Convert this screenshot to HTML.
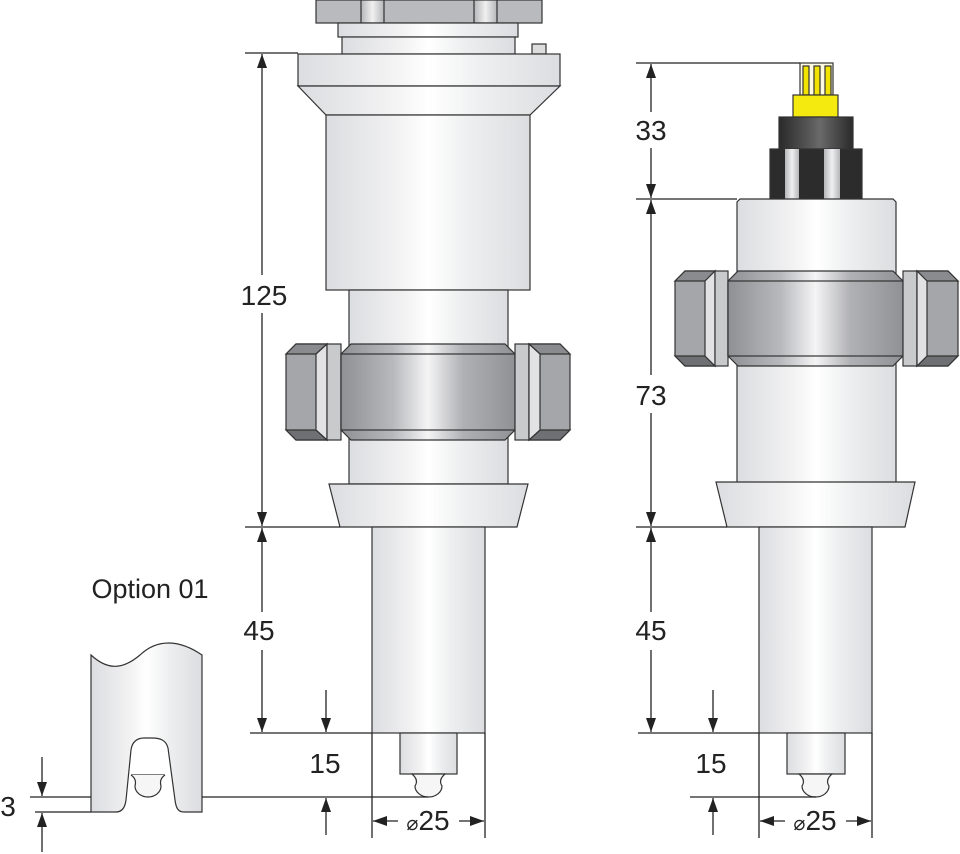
<!DOCTYPE html>
<html><head><meta charset="utf-8"><style>html,body{margin:0;padding:0;background:#fff}svg{display:block}</style></head>
<body>
<svg width="960" height="854" viewBox="0 0 960 854" xmlns="http://www.w3.org/2000/svg" font-family="Liberation Sans, Arial, sans-serif">
<defs>
<linearGradient id="w" x1="0" x2="1" y1="0" y2="0">
<stop offset="0" stop-color="#dcdde0"/><stop offset="0.35" stop-color="#f2f2f3"/><stop offset="0.5" stop-color="#ffffff"/><stop offset="0.7" stop-color="#eeeff0"/><stop offset="1" stop-color="#dcdde0"/></linearGradient>
<linearGradient id="n" x1="0" x2="1" y1="0" y2="0">
<stop offset="0" stop-color="#8f9094"/><stop offset="0.3" stop-color="#b8b9bc"/><stop offset="0.5" stop-color="#f4f4f5"/><stop offset="0.7" stop-color="#b0b1b4"/><stop offset="1" stop-color="#909195"/></linearGradient>
<linearGradient id="nl" x1="0" x2="1" y1="0" y2="0">
<stop offset="0" stop-color="#b5b6b9"/><stop offset="0.5" stop-color="#f0f0f1"/><stop offset="1" stop-color="#b5b6b9"/></linearGradient>
<linearGradient id="k" x1="0" x2="1" y1="0" y2="0">
<stop offset="0" stop-color="#2a2a2a"/><stop offset="0.45" stop-color="#5c5c5c"/><stop offset="0.55" stop-color="#6a6a6a"/><stop offset="1" stop-color="#2a2a2a"/></linearGradient>
<marker id="a" markerWidth="16" markerHeight="12" refX="14" refY="6" orient="auto" markerUnits="userSpaceOnUse"><path d="M0,1 L14,6 L0,11 z" fill="#222"/></marker>
</defs>
<g stroke="#333" stroke-width="1.2">
<!-- LEFT DEVICE -->
<rect x="316" y="0" width="226" height="23" fill="#b9babd"/>
<rect x="361" y="0" width="23" height="23" fill="url(#nl)"/>
<rect x="474" y="0" width="23" height="23" fill="url(#nl)"/>
<rect x="338" y="23" width="180" height="14" fill="url(#w)"/>
<rect x="342" y="37" width="173" height="17" fill="url(#w)"/>
<rect x="532" y="44" width="14" height="10" fill="#ddd"/>
<rect x="298" y="54" width="262" height="32" fill="url(#w)"/>
<polygon points="298,86 560,86 530,115 326,115" fill="url(#w)"/>
<rect x="326" y="115" width="204" height="175" fill="url(#w)"/>
<rect x="349" y="290" width="159" height="194" fill="url(#w)"/>
<polygon points="286,354 296,344 327,344 327,440 296,440 286,430" fill="#a5a6a9"/>
<polygon points="286,354 296,344 327,344 316,354" fill="#8a8b8e"/>
<polygon points="286,430 316,430 327,440 296,440" fill="#6f7073"/>
<polygon points="316,354 327,344 327,440 316,430" fill="#e2e2e4"/>
<rect x="327" y="344" width="14" height="96" fill="#c9cacc"/>
<polygon points="341,354 351,344 505,344 515,354 515,430 505,440 351,440 341,430" fill="url(#n)"/>
<rect x="341" y="354" width="174" height="76" fill="url(#n)"/>
<rect x="515" y="344" width="14" height="96" fill="#c9cacc"/>
<polygon points="570,354 560,344 529,344 529,440 560,440 570,430" fill="#a5a6a9"/>
<polygon points="570,354 560,344 529,344 540,354" fill="#8a8b8e"/>
<polygon points="570,430 540,430 529,440 560,440" fill="#6f7073"/>
<polygon points="540,354 529,344 529,440 540,430" fill="#e2e2e4"/>
<polygon points="329,484 528,484 517,527 340,527" fill="url(#w)"/>
<rect x="372" y="527" width="113" height="206" fill="url(#w)"/>
<rect x="400" y="733" width="57" height="41" fill="url(#w)"/>
<path d="M412,774 Q419,780 415,786 A13.5,11 0 0 0 442,786 Q438,780 445,774 Z" fill="#f6f6f6"/>
<!-- RIGHT DEVICE -->
<rect x="800" y="63" width="33" height="33" fill="#fffbe0"/>
<rect x="803" y="66" width="6" height="29" fill="#f3e400"/>
<rect x="814" y="66" width="6" height="29" fill="#f3e400"/>
<rect x="825" y="66" width="6" height="29" fill="#f3e400"/>
<rect x="793" y="95" width="45" height="22" fill="#f5ea10"/>
<rect x="779" y="117" width="74" height="32" fill="url(#k)"/>
<rect x="770" y="149" width="92" height="50" fill="#2c2c2c"/>
<rect x="785" y="149" width="14" height="50" fill="url(#nl)" stroke="none"/>
<rect x="824" y="149" width="16" height="50" fill="url(#nl)" stroke="none"/>
<path d="M737,482 L737,202 L740,199 L893,199 L896,202 L896,482" fill="url(#w)"/>
<polygon points="675,281 685,271 715,271 715,366 685,366 675,356" fill="#a5a6a9"/>
<polygon points="675,281 685,271 715,271 705,281" fill="#8a8b8e"/>
<polygon points="675,356 705,356 715,366 685,366" fill="#6f7073"/>
<polygon points="705,281 715,271 715,366 705,356" fill="#e2e2e4"/>
<rect x="715" y="271" width="13" height="95" fill="#c9cacc"/>
<polygon points="728,281 738,271 893,271 903,281 903,356 893,366 738,366 728,356" fill="url(#n)"/>
<rect x="728" y="281" width="175" height="75" fill="url(#n)"/>
<rect x="903" y="271" width="14" height="95" fill="#c9cacc"/>
<polygon points="958,281 948,271 917,271 917,366 948,366 958,356" fill="#a5a6a9"/>
<polygon points="958,281 948,271 917,271 927,281" fill="#8a8b8e"/>
<polygon points="958,356 927,356 917,366 948,366" fill="#6f7073"/>
<polygon points="927,281 917,271 917,366 927,356" fill="#e2e2e4"/>
<polygon points="716,482 915,482 905,527 727,527" fill="url(#w)"/>
<rect x="759" y="527" width="113" height="206" fill="url(#w)"/>
<rect x="787" y="733" width="58" height="41" fill="url(#w)"/>
<path d="M799,774 Q806,780 802,786 A13.5,11 0 0 0 829,786 Q825,780 832,774 Z" fill="#f6f6f6"/>
<!-- OPTION 01 -->
<path d="M91,655 C105,668 120,672 140,655 C158,638 180,640 202,655 L202,812 L184,812 C178,812 176,808 175,800 L168,748 C166,740 160,738 152,738 L144,738 C137,738 132,742 131,750 L126,800 C125,808 122,812 116,812 L91,812 Z" fill="url(#w)"/>
<path d="M131,775 L165,775" fill="none"/>
<path d="M131,775 Q137,779 135,786 A13,11 0 0 0 161,786 Q159,779 165,775" fill="#f6f6f6"/>
</g>
<g stroke="#222" stroke-width="1.3" fill="none">
<line x1="245" y1="53" x2="298" y2="53"/>
<line x1="245" y1="527" x2="340" y2="527"/>
<line x1="250" y1="733" x2="372" y2="733"/>
<line x1="262" y1="275" x2="262" y2="54" marker-end="url(#a)"/>
<line x1="262" y1="313" x2="262" y2="526" marker-end="url(#a)"/>
<line x1="262" y1="612" x2="262" y2="528" marker-end="url(#a)"/>
<line x1="262" y1="650" x2="262" y2="732" marker-end="url(#a)"/>
<line x1="326" y1="690" x2="326" y2="732" marker-end="url(#a)"/>
<line x1="326" y1="835" x2="326" y2="798" marker-end="url(#a)"/>
<line x1="30" y1="797" x2="91" y2="797"/>
<line x1="202" y1="797" x2="428" y2="797"/>
<line x1="35" y1="812" x2="91" y2="812"/>
<line x1="42" y1="757" x2="42" y2="796" marker-end="url(#a)"/>
<line x1="42" y1="852" x2="42" y2="813" marker-end="url(#a)"/>
<line x1="372" y1="733" x2="372" y2="838"/>
<line x1="485" y1="733" x2="485" y2="838"/>
<line x1="398" y1="821" x2="373" y2="821" marker-end="url(#a)"/>
<line x1="459" y1="821" x2="484" y2="821" marker-end="url(#a)"/>
<line x1="636" y1="63" x2="800" y2="63"/>
<line x1="636" y1="199" x2="737" y2="199"/>
<line x1="636" y1="527" x2="727" y2="527"/>
<line x1="638" y1="733" x2="759" y2="733"/>
<line x1="651" y1="112" x2="651" y2="64" marker-end="url(#a)"/>
<line x1="651" y1="148" x2="651" y2="198" marker-end="url(#a)"/>
<line x1="651" y1="375" x2="651" y2="200" marker-end="url(#a)"/>
<line x1="651" y1="413" x2="651" y2="526" marker-end="url(#a)"/>
<line x1="651" y1="612" x2="651" y2="528" marker-end="url(#a)"/>
<line x1="651" y1="650" x2="651" y2="732" marker-end="url(#a)"/>
<line x1="713" y1="690" x2="713" y2="732" marker-end="url(#a)"/>
<line x1="713" y1="835" x2="713" y2="798" marker-end="url(#a)"/>
<line x1="690" y1="797" x2="816" y2="797"/>
<line x1="759" y1="733" x2="759" y2="838"/>
<line x1="872" y1="733" x2="872" y2="838"/>
<line x1="785" y1="821" x2="760" y2="821" marker-end="url(#a)"/>
<line x1="846" y1="821" x2="871" y2="821" marker-end="url(#a)"/>
</g>
<g fill="#222" font-size="28">
<text x="264" y="305" text-anchor="middle">125</text>
<text x="259" y="640" text-anchor="middle">45</text>
<text x="325" y="773" text-anchor="middle">15</text>
<text x="428" y="830" text-anchor="middle"><tspan font-size="20">⌀</tspan>25</text>
<text x="8" y="816" text-anchor="middle">3</text>
<text x="150" y="598" text-anchor="middle" font-size="27">Option 01</text>
<text x="651" y="140" text-anchor="middle">33</text>
<text x="651" y="405" text-anchor="middle">73</text>
<text x="651" y="640" text-anchor="middle">45</text>
<text x="711" y="773" text-anchor="middle">15</text>
<text x="815" y="830" text-anchor="middle"><tspan font-size="20">⌀</tspan>25</text>
</g>
</svg>
</body></html>
